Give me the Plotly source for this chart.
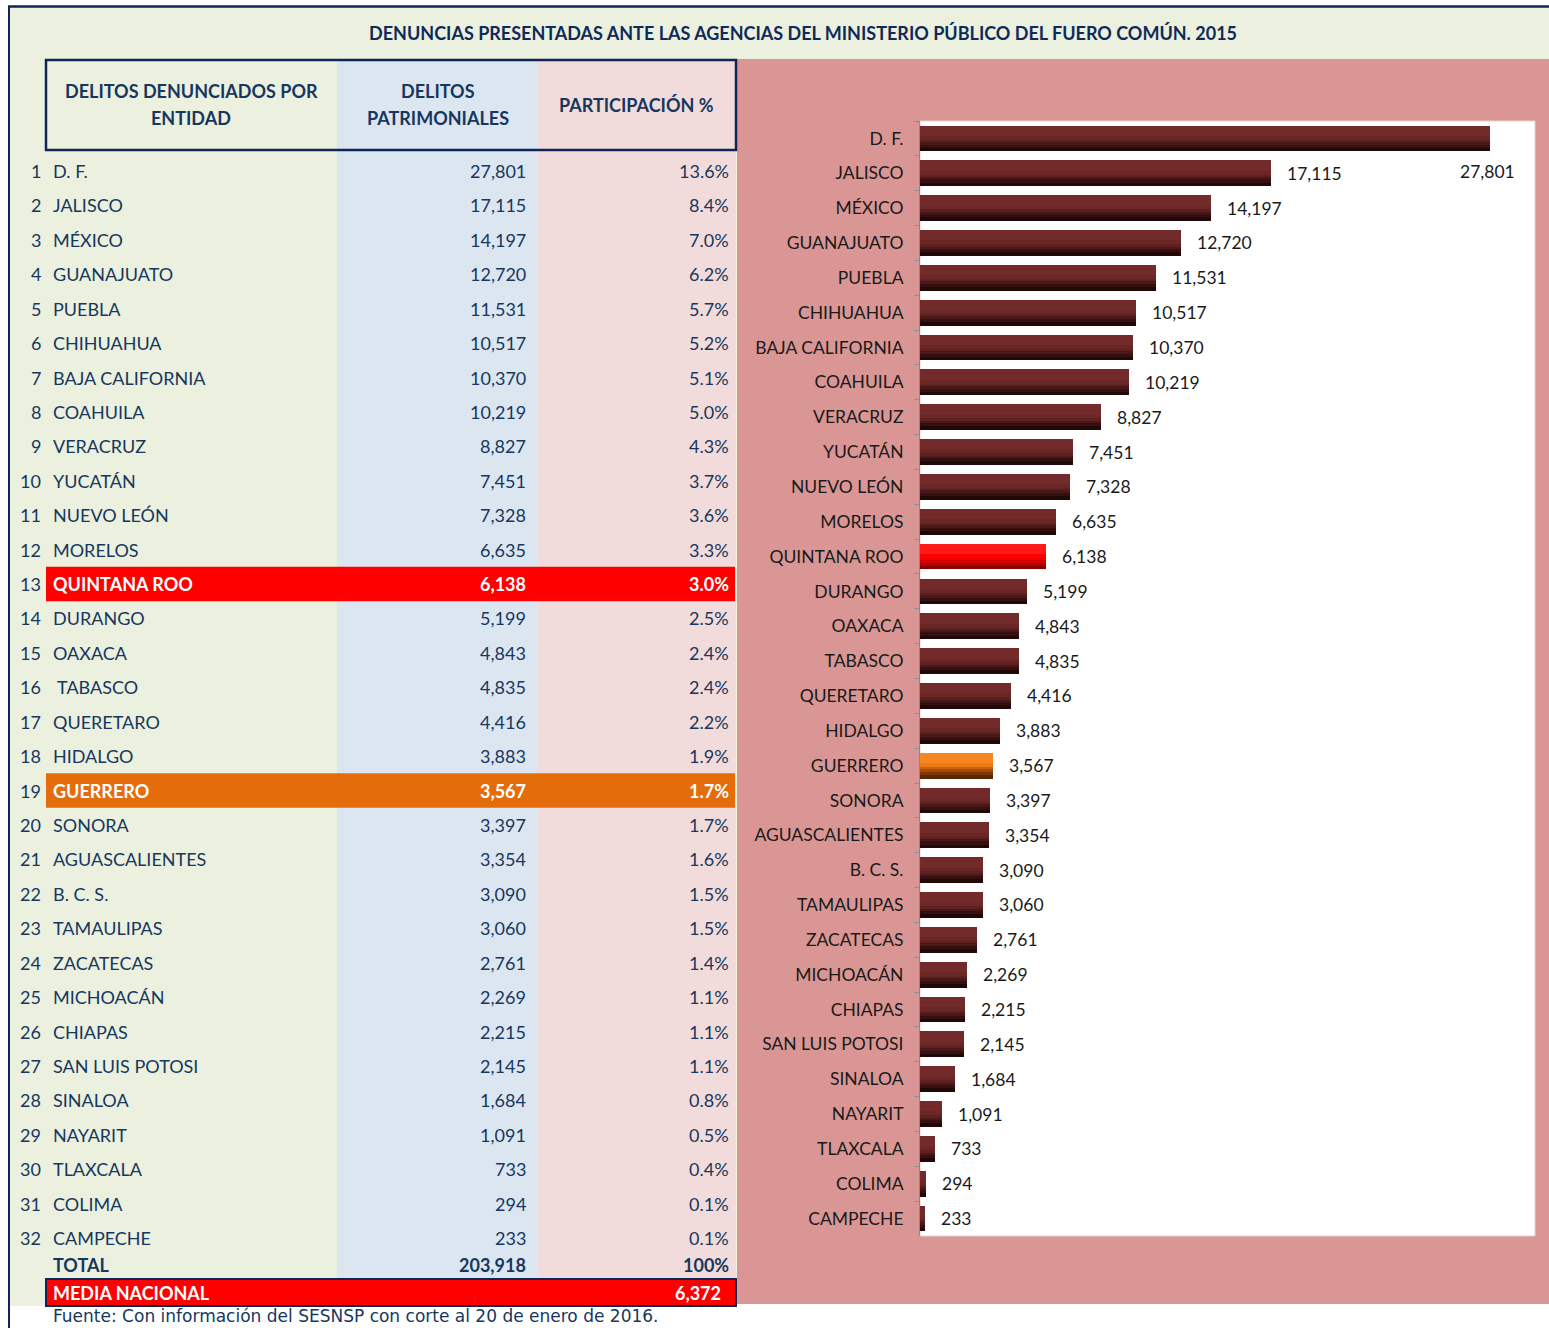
import plotly.graph_objects as go

W, H = 1549, 1328

# ---------------- data ----------------
title_text = "DENUNCIAS PRESENTADAS ANTE LAS AGENCIAS DEL MINISTERIO PÚBLICO DEL FUERO COMÚN. 2015"
header_cols = [["DELITOS DENUNCIADOS POR", "ENTIDAD"], ["DELITOS", "PATRIMONIALES"], ["PARTICIPACIÓN %"]]

table_names = ["D. F.", "JALISCO", "MÉXICO", "GUANAJUATO", "PUEBLA", "CHIHUAHUA",
               "BAJA CALIFORNIA", "COAHUILA", "VERACRUZ", "YUCATÁN", "NUEVO LEÓN",
               "MORELOS", "QUINTANA ROO", "DURANGO", "OAXACA", " TABASCO", "QUERETARO",
               "HIDALGO", "GUERRERO", "SONORA", "AGUASCALIENTES", "B. C. S.", "TAMAULIPAS",
               "ZACATECAS", "MICHOACÁN", "CHIAPAS", "SAN LUIS POTOSI", "SINALOA",
               "NAYARIT", "TLAXCALA", "COLIMA", "CAMPECHE"]
values = [27801, 17115, 14197, 12720, 11531, 10517, 10370, 10219, 8827, 7451, 7328,
          6635, 6138, 5199, 4843, 4835, 4416, 3883, 3567, 3397, 3354, 3090, 3060,
          2761, 2269, 2215, 2145, 1684, 1091, 733, 294, 233]
shares = ["13.6%", "8.4%", "7.0%", "6.2%", "5.7%", "5.2%", "5.1%", "5.0%", "4.3%",
          "3.7%", "3.6%", "3.3%", "3.0%", "2.5%", "2.4%", "2.4%", "2.2%", "1.9%",
          "1.7%", "1.7%", "1.6%", "1.5%", "1.5%", "1.4%", "1.1%", "1.1%", "1.1%",
          "0.8%", "0.5%", "0.4%", "0.1%", "0.1%"]
total_label, total_value, total_share = "TOTAL", "203,918", "100%"
media_label, media_value = "MEDIA NACIONAL", "6,372"
source_text = "Fuente: Con información del SESNSP con corte al 20 de enero de 2016."
highlights = {"QUINTANA ROO": "red", "GUERRERO": "orange"}

# ---------------- style ----------------
FONT = "Lato"
NAVY = "#17375E"
GREEN = "#EBF1DE"
BLUE = "#DCE6F1"
PINKL = "#F2DCDB"
PINK = "#D99694"
BAND = {"red": "#FF0000", "orange": "#E46C0A"}
BAR_LAYERS = {  # from dark bottom to light top
    "default": ["#220707", "#351010", "#4A1818", "#5E2020", "#6B2626", "#722A2A"],
    "red": ["#8A0000", "#B00000", "#D40000", "#F00000", "#FF0000", "#FF1A1A"],
    "orange": ["#5A2603", "#7E3806", "#A44C08", "#CC620C", "#EE7716", "#F6861F"],
}
FRACS = [1.0, 0.86, 0.74, 0.64, 0.55, 0.40]

def px(x):
    return x / W

def py(y):
    return 1 - y / H

chart_names = [n.strip() for n in table_names]
n = len(values)

fig = go.Figure()

# ---------------- bar chart ----------------
bw = 0.74
for li, f in enumerate(FRACS):
    cols = [BAR_LAYERS[highlights.get(c, "default")][li] for c in chart_names]
    fig.add_trace(go.Bar(
        x=values, y=chart_names, orientation="h",
        marker=dict(color=cols, line=dict(width=0)),
        width=bw * f, offset=-bw / 2,
        hoverinfo="x+y" if li == 0 else "skip",
        showlegend=False, xaxis="x", yaxis="y",
    ))

# value labels
for i, (c, v) in enumerate(zip(chart_names, values)):
    if i == 0:
        fig.add_annotation(x=v, y=c, xref="x", yref="y", text=f"{v:,}",
                           showarrow=False, xanchor="center", yanchor="middle",
                           yshift=-33, xshift=-2,
                           font=dict(family=FONT, size=17.5, color="#1a1a1a"))
    else:
        fig.add_annotation(x=v, y=c, xref="x", yref="y", text=f"{v:,}",
                           showarrow=False, xanchor="left", yanchor="middle",
                           xshift=14,
                           font=dict(family=FONT, size=17.5, color="#1a1a1a"))

# ---------------- table (on its own invisible axes) ----------------
row0_px, row_h = 171.0, 34.42
def row_at_px(p):
    return 1 + (p - row0_px) / row_h

total_row = row_at_px(1265)
media_row = row_at_px(1293)

fig.add_trace(go.Scatter(x=[0], y=[1], mode="markers", marker=dict(opacity=0),
                         hoverinfo="skip", showlegend=False, xaxis="x2", yaxis="y2"))

def tcell(x, y, text, anchor, color=NAVY, bold=False, size=18):
    fig.add_annotation(x=x, y=y, xref="x2", yref="y2",
                       text=f"<b>{text}</b>" if bold else text,
                       showarrow=False, xanchor=anchor, yanchor="middle",
                       font=dict(family=FONT, size=size, color=color))

shapes = []
shapes.append(dict(type="rect", xref="paper", yref="paper", x0=px(8), x1=px(737),
                   y0=py(1306), y1=py(6), fillcolor=GREEN, line=dict(width=0), layer="below"))
shapes.append(dict(type="rect", xref="paper", yref="paper", x0=px(8), x1=1,
                   y0=py(59), y1=py(6), fillcolor=GREEN, line=dict(width=0), layer="below"))
shapes.append(dict(type="rect", xref="paper", yref="paper", x0=px(737), x1=1,
                   y0=py(1304), y1=py(59), fillcolor=PINK, line=dict(width=0), layer="below"))
shapes.append(dict(type="rect", xref="paper", yref="paper", x0=px(337), x1=px(538),
                   y0=py(1279), y1=py(59), fillcolor=BLUE, line=dict(width=0), layer="below"))
shapes.append(dict(type="rect", xref="paper", yref="paper", x0=px(538), x1=px(736),
                   y0=py(1279), y1=py(59), fillcolor=PINKL, line=dict(width=0), layer="below"))
shapes.append(dict(type="rect", xref="x domain", yref="y domain", x0=0, x1=1, y0=0, y1=1,
                   fillcolor="white", line=dict(color="#E8D0D0", width=1), layer="below"))
for i, c in enumerate(chart_names):
    if c in highlights:
        shapes.append(dict(type="rect", xref="x2", yref="y2", x0=46, x1=735,
                           y0=i + 1 - 0.5, y1=i + 1 + 0.5,
                           fillcolor=BAND[highlights[c]], line=dict(width=0), layer="below"))
shapes.append(dict(type="rect", xref="paper", yref="paper", x0=px(46), x1=px(736),
                   y0=py(1306), y1=py(1279), fillcolor="#FF0000",
                   line=dict(color="#0F2557", width=2), layer="below"))
shapes.append(dict(type="rect", xref="paper", yref="paper", x0=px(46), x1=px(736),
                   y0=py(150), y1=py(60), fillcolor="rgba(0,0,0,0)",
                   line=dict(color="#0F2557", width=2.5), layer="above"))
shapes.append(dict(type="line", xref="paper", yref="paper", x0=px(8), x1=1,
                   y0=py(6.5), y1=py(6.5), line=dict(color="#0F2557", width=2.5)))
shapes.append(dict(type="line", xref="paper", yref="paper", x0=px(9), x1=px(9),
                   y0=0, y1=py(6), line=dict(color="#0F2557", width=2)))

for i, (nm, v, s) in enumerate(zip(table_names, values, shares)):
    r = i + 1
    hl = chart_names[i] in highlights
    col = "white" if hl else NAVY
    tcell(43, r, str(r), "right")
    tcell(51, r, nm.replace(" ", "&nbsp;") if nm.startswith(" ") else nm, "left", col, hl)
    tcell(528, r, f"{v:,}", "right", col, hl)
    tcell(731, r, s, "right", col, hl)

tcell(51, total_row, total_label, "left", NAVY, True)
tcell(528, total_row, total_value, "right", NAVY, True)
tcell(731, total_row, total_share, "right", NAVY, True)
tcell(51, media_row, media_label, "left", "white", True)
tcell(723, media_row, media_value, "right", "white", True)

# header texts (one annotation per line)
for xc, lines in zip([191, 438, 636], header_cols):
    ys = [104.5] if len(lines) == 1 else [90.5, 118.5]
    for yc, txt in zip(ys, lines):
        fig.add_annotation(x=px(xc), y=py(yc), xref="paper", yref="paper", text=f"<b>{txt}</b>",
                           showarrow=False, xanchor="center", yanchor="middle",
                           font=dict(family=FONT, size=18, color=NAVY))

fig.add_annotation(x=px(803), y=py(33), xref="paper", yref="paper", text=f"<b>{title_text}</b>",
                   showarrow=False, xanchor="center", yanchor="middle",
                   font=dict(family=FONT, size=18, color="#0F2A5A"))
fig.add_annotation(x=px(51), y=py(1316), xref="paper", yref="paper", text=source_text,
                   showarrow=False, xanchor="left", yanchor="middle",
                   font=dict(family="DejaVu Sans", size=17, color=NAVY))

fig.update_layout(
    width=W, height=H, margin=dict(l=0, r=0, t=0, b=0),
    paper_bgcolor="white", plot_bgcolor="rgba(0,0,0,0)",
    barmode="overlay", bargap=0, showlegend=False,
    shapes=shapes,
    xaxis=dict(domain=[px(920), px(1535)], range=[0, 30000], visible=False, fixedrange=True),
    yaxis=dict(domain=[py(1236), py(121)], type="category", range=[n - 0.5, -0.5],
               showline=True, linecolor="#8C8C8C", linewidth=1,
               ticks="outside", ticklen=5, tickcolor="#8C8C8C", tickson="boundaries",
               ticklabelstandoff=12, showgrid=False,
               tickfont=dict(family=FONT, size=17.5, color="#1a1a1a"), fixedrange=True),
    xaxis2=dict(domain=[0, 1], range=[0, W], visible=False, anchor="y2", fixedrange=True),
    yaxis2=dict(domain=[0, 1], range=[row_at_px(H), row_at_px(0)], visible=False,
                anchor="x2", fixedrange=True),
)

fig.write_html("out.html", post_script="document.body.style.margin='0';",
               config={"displayModeBar": False})
